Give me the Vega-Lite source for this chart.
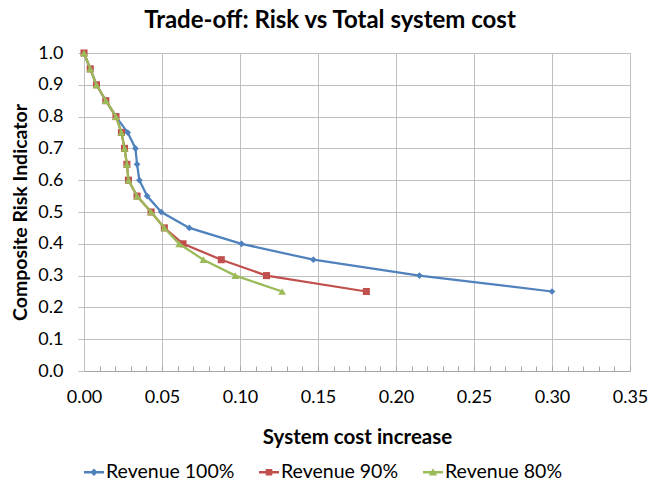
{
  "$schema": "https://vega.github.io/schema/vega-lite/v6.json",
  "width": 546,
  "height": 318,
  "autosize": "none",
  "padding": {"left": 84, "top": 53, "right": 22, "bottom": 111},
  "background": "white",
  "title": {
    "text": "Trade-off: Risk vs Total system cost",
    "font": "Lato",
    "fontSize": 24,
    "fontWeight": "bold",
    "color": "#000000",
    "anchor": "middle",
    "frame": "group",
    "dx": -27,
    "offset": 11
  },
  "config": {
    "view": {"stroke": null},
    "font": "Lato"
  },
  "data": {
    "values": [
      {"series": "Revenue 100%", "cost": 0.0, "risk": 1.0},
      {"series": "Revenue 100%", "cost": 0.004, "risk": 0.95},
      {"series": "Revenue 100%", "cost": 0.008, "risk": 0.9},
      {"series": "Revenue 100%", "cost": 0.014, "risk": 0.85},
      {"series": "Revenue 100%", "cost": 0.0205, "risk": 0.8},
      {"series": "Revenue 100%", "cost": 0.028, "risk": 0.75},
      {"series": "Revenue 100%", "cost": 0.033, "risk": 0.7},
      {"series": "Revenue 100%", "cost": 0.034, "risk": 0.65},
      {"series": "Revenue 100%", "cost": 0.0355, "risk": 0.6},
      {"series": "Revenue 100%", "cost": 0.0405, "risk": 0.55},
      {"series": "Revenue 100%", "cost": 0.0495, "risk": 0.5},
      {"series": "Revenue 100%", "cost": 0.0675, "risk": 0.45},
      {"series": "Revenue 100%", "cost": 0.101, "risk": 0.4},
      {"series": "Revenue 100%", "cost": 0.147, "risk": 0.35},
      {"series": "Revenue 100%", "cost": 0.215, "risk": 0.3},
      {"series": "Revenue 100%", "cost": 0.3, "risk": 0.25},
      {"series": "Revenue 90%", "cost": 0.0, "risk": 1.0},
      {"series": "Revenue 90%", "cost": 0.004, "risk": 0.95},
      {"series": "Revenue 90%", "cost": 0.008, "risk": 0.9},
      {"series": "Revenue 90%", "cost": 0.014, "risk": 0.85},
      {"series": "Revenue 90%", "cost": 0.0205, "risk": 0.8},
      {"series": "Revenue 90%", "cost": 0.024, "risk": 0.75},
      {"series": "Revenue 90%", "cost": 0.026, "risk": 0.7},
      {"series": "Revenue 90%", "cost": 0.0275, "risk": 0.65},
      {"series": "Revenue 90%", "cost": 0.0285, "risk": 0.6},
      {"series": "Revenue 90%", "cost": 0.034, "risk": 0.55},
      {"series": "Revenue 90%", "cost": 0.043, "risk": 0.5},
      {"series": "Revenue 90%", "cost": 0.0515, "risk": 0.45},
      {"series": "Revenue 90%", "cost": 0.0635, "risk": 0.4},
      {"series": "Revenue 90%", "cost": 0.088, "risk": 0.35},
      {"series": "Revenue 90%", "cost": 0.117, "risk": 0.3},
      {"series": "Revenue 90%", "cost": 0.181, "risk": 0.25},
      {"series": "Revenue 80%", "cost": 0.0, "risk": 1.0},
      {"series": "Revenue 80%", "cost": 0.004, "risk": 0.95},
      {"series": "Revenue 80%", "cost": 0.008, "risk": 0.9},
      {"series": "Revenue 80%", "cost": 0.014, "risk": 0.85},
      {"series": "Revenue 80%", "cost": 0.0205, "risk": 0.8},
      {"series": "Revenue 80%", "cost": 0.024, "risk": 0.75},
      {"series": "Revenue 80%", "cost": 0.026, "risk": 0.7},
      {"series": "Revenue 80%", "cost": 0.0275, "risk": 0.65},
      {"series": "Revenue 80%", "cost": 0.0285, "risk": 0.6},
      {"series": "Revenue 80%", "cost": 0.034, "risk": 0.55},
      {"series": "Revenue 80%", "cost": 0.043, "risk": 0.5},
      {"series": "Revenue 80%", "cost": 0.0515, "risk": 0.45},
      {"series": "Revenue 80%", "cost": 0.061, "risk": 0.4},
      {"series": "Revenue 80%", "cost": 0.0765, "risk": 0.35},
      {"series": "Revenue 80%", "cost": 0.097, "risk": 0.3},
      {"series": "Revenue 80%", "cost": 0.127, "risk": 0.25}
    ]
  },
  "encoding": {
    "x": {
      "field": "cost",
      "type": "quantitative",
      "scale": {"domain": [0, 0.35], "nice": false, "zero": true},
      "axis": {
        "title": "System cost increase",
        "titleFont": "Lato",
        "titleFontSize": 20.5,
        "titleFontWeight": "bold",
        "titleColor": "#000000",
        "titlePadding": 21,
        "values": [0, 0.01, 0.02, 0.03, 0.04, 0.05, 0.06, 0.07, 0.08, 0.09, 0.1, 0.11, 0.12, 0.13, 0.14, 0.15, 0.16, 0.17, 0.18, 0.19, 0.2, 0.21, 0.22, 0.23, 0.24, 0.25, 0.26, 0.27, 0.28, 0.29, 0.3, 0.31, 0.32, 0.33, 0.34, 0.35],
        "labelExpr": "round(datum.value*100) % 5 === 0 ? format(datum.value, '.2f') : ''",
        "labelFont": "Lato",
        "labelFontSize": 18,
        "labelColor": "#000000",
        "labelPadding": 22,
        "labelFlush": false,
        "labelOverlap": false,
        "tickSize": -5,
        "tickColor": "#A6A6A6",
        "tickWidth": 1,
        "domainColor": "#A6A6A6",
        "domainWidth": 1,
        "gridColor": "#BFBFBF",
        "gridWidth": 1,
        "gridOpacity": {"condition": {"test": "round(datum.value*100) % 5 === 0", "value": 1}, "value": 0}
      }
    },
    "y": {
      "field": "risk",
      "type": "quantitative",
      "scale": {"domain": [0, 1], "nice": false},
      "axis": {
        "title": "Composite Risk Indicator",
        "titleFont": "Lato",
        "titleFontSize": 19.5,
        "titleFontWeight": "bold",
        "titleColor": "#000000",
        "titlePadding": 7,
        "values": [0, 0.1, 0.2, 0.3, 0.4, 0.5, 0.6, 0.7, 0.8, 0.9, 1.0],
        "format": ".1f",
        "labelFont": "Lato",
        "labelFontSize": 18,
        "labelColor": "#000000",
        "labelPadding": 15,
        "tickSize": 6,
        "tickColor": "#BFBFBF",
        "domainColor": "#BFBFBF",
        "gridColor": "#BFBFBF",
        "gridWidth": 1
      }
    },
    "color": {
      "field": "series",
      "type": "nominal",
      "scale": {"domain": ["Revenue 100%", "Revenue 90%", "Revenue 80%"], "range": ["#4F81BD", "#C0504D", "#9BBB59"]},
      "legend": {
        "title": null,
        "orient": "bottom",
        "direction": "horizontal",
        "labelFont": "Lato",
        "labelFontSize": 19.5,
        "labelColor": "#000000",
        "symbolSize": 400,
        "labelOffset": 2,
        "columnPadding": 24,
        "offset": 14,
        "encode": {
          "symbols": {
            "update": {
              "shape": {"signal": "datum.value === 'Revenue 100%' ? 'M-1,-0.12H1V0.12H-1Z M0,-0.38L0.38,0L0,0.38L-0.38,0Z' : datum.value === 'Revenue 90%' ? 'M-1,-0.12H1V0.12H-1Z M-0.33,-0.33H0.33V0.33H-0.33Z' : 'M-1,-0.12H1V0.12H-1Z M0,-0.4L0.42,0.32H-0.42Z'"},
              "fill": {"signal": "datum.value === 'Revenue 100%' ? '#4F81BD' : datum.value === 'Revenue 90%' ? '#C0504D' : '#9BBB59'"},
              "fillOpacity": {"value": 1},
              "stroke": {"value": "transparent"},
              "strokeWidth": {"value": 0}
            }
          }
        }
      }
    }
  },
  "layer": [
    {"transform": [{"filter": "datum.series === 'Revenue 100%'"}], "mark": {"type": "line", "strokeWidth": 2.25}},
    {"transform": [{"filter": "datum.series === 'Revenue 100%'"}], "mark": {"type": "point", "shape": "diamond", "filled": true, "size": 45, "opacity": 1}},
    {"transform": [{"filter": "datum.series === 'Revenue 90%'"}], "mark": {"type": "line", "strokeWidth": 2.25}},
    {"transform": [{"filter": "datum.series === 'Revenue 90%'"}], "mark": {"type": "point", "shape": "square", "filled": true, "size": 50, "opacity": 1}},
    {"transform": [{"filter": "datum.series === 'Revenue 80%'"}], "mark": {"type": "line", "strokeWidth": 2.25}},
    {"transform": [{"filter": "datum.series === 'Revenue 80%'"}], "mark": {"type": "point", "shape": "triangle-up", "filled": true, "size": 60, "opacity": 1}}
  ]
}
